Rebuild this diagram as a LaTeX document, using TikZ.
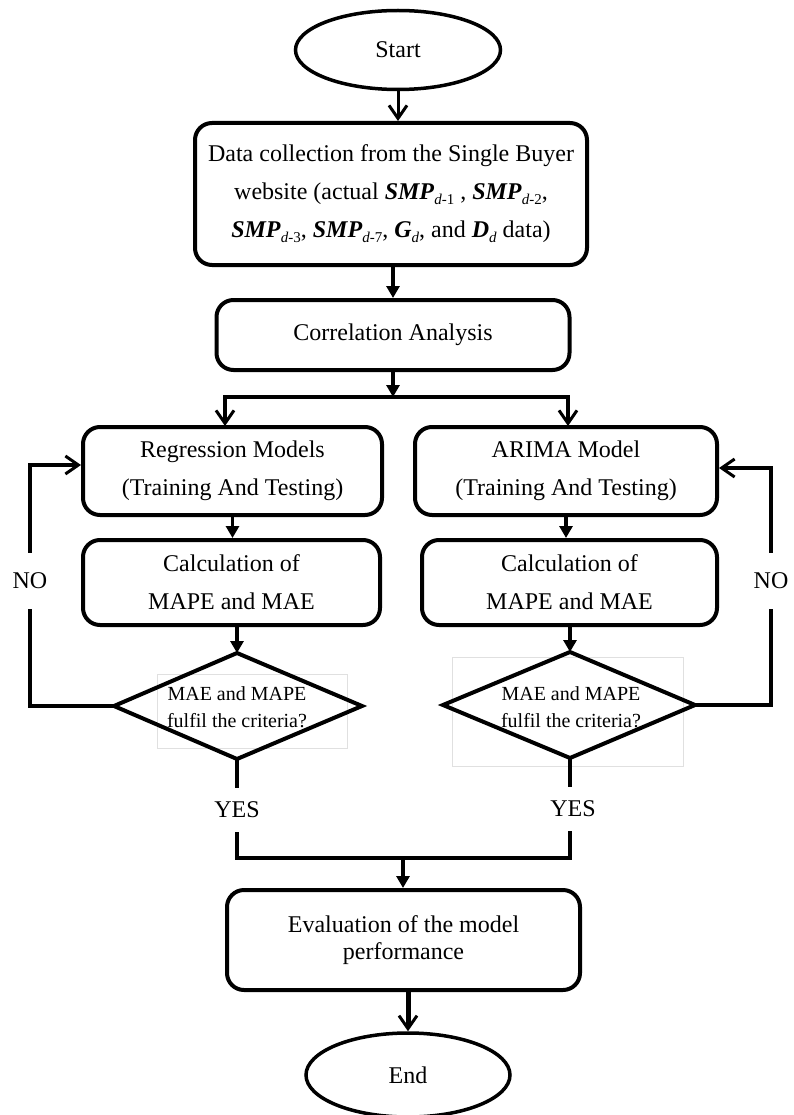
\documentclass[tikz,border=0pt]{standalone}
\usepackage{fontspec}
\setmainfont{Liberation Serif}
\usetikzlibrary{arrows.meta,shapes.geometric,calc}
\newcommand{\subd}[1]{\raisebox{-0.45ex}{\fontsize{15pt}{15pt}\selectfont\textit{d}#1}}
\newcommand{\smpd}[1]{\textbf{\textit{SMP}}\subd{-#1}}
\begin{document}
\begin{tikzpicture}[x=1pt,y=-1pt,
  every node/.style={inner sep=0pt, align=center},
  txt/.style={font=\fontsize{24pt}{38pt}\selectfont},
  box/.style={draw, line width=4pt, rounded corners=17pt, txt},
  term/.style={draw, ellipse, line width=3.5pt, txt},
  dectxt/.style={font=\fontsize{20pt}{27pt}\selectfont},
  decline/.style={line width=4pt, line join=miter},
  conn/.style={line width=3.5pt},
  openarr/.style={conn, -{Straight Barb[length=13pt,width=18pt,line width=3pt]}},
  filarr/.style={conn, -{Triangle[length=12pt,width=13pt]}},
  grayrect/.style={draw=black!12, line width=1pt},
  gaplabel/.style={fill=white, txt}
]
\useasboundingbox (0,0) rectangle (794,1115);
% gray frames behind the decisions
\draw[grayrect] (157,674) rectangle (347,748);
\draw[grayrect] (452,657) rectangle (683,766);
% nodes
\node[term, minimum width=205pt, minimum height=79pt] (start) at (398,50) {Start};
\node[box, minimum width=392pt, minimum height=142pt] (data) at (391,194)
  {Data collection from the Single Buyer\\
   website (actual \smpd{1} , \smpd{2},\\
   \smpd{3}, \smpd{7}, \textbf{\textit{G}}\subd{}, and \textbf{\textit{D}}\subd{} data)};
\node[box, minimum width=353pt, minimum height=70pt] (corr) at (393,335) {Correlation Analysis};
\node[box, minimum width=299pt, minimum height=88pt] (reg) at (232.5,471) {Regression Models\\(Training And Testing)};
\node[box, minimum width=302pt, minimum height=88pt] (ari) at (566,471) {ARIMA Model\\(Training And Testing)};
\node[box, minimum width=297pt, minimum height=85pt] (calcl) at (231.5,582.5) {Calculation of\\MAPE and MAE};
\node[box, minimum width=295pt, minimum height=85pt] (calcr) at (569.5,582.5) {Calculation of\\MAPE and MAE};
% decision diamonds
\coordinate (dlN) at (237,653);
\coordinate (dlE) at (362,706);
\coordinate (dlS) at (237,759);
\coordinate (dlW) at (114,706);
\draw[decline] (dlN) -- (dlE) -- (dlS) -- (dlW) -- cycle;
\node[dectxt] (dl) at (237,707) {MAE and MAPE\\fulfil the criteria?};
\coordinate (drN) at (570,652);
\coordinate (drE) at (695,705);
\coordinate (drS) at (570,758);
\coordinate (drW) at (443,705);
\draw[decline] (drN) -- (drE) -- (drS) -- (drW) -- cycle;
\node[dectxt] (dr) at (571,707) {MAE and MAPE\\fulfil the criteria?};
\node[box, minimum width=353pt, minimum height=100pt, font=\fontsize{24pt}{27pt}\selectfont] (eval) at (403.5,940) {Evaluation of the model\\performance};
\node[term, minimum width=204pt, minimum height=84pt] (end) at (408,1075) {End};
% coordinates
\coordinate (j) at (393,397);
\coordinate (jl) at (225,426);
\coordinate (jr) at (568,426);
\coordinate (nl) at (30,465);
\coordinate (nr) at (771,468);
\coordinate (yr) at (570,858);
\coordinate (ye) at (403,858);
% connectors
\draw[openarr, line width=3pt] (start.south) -- (start.south |- data.north);
\draw[filarr] (corr.north |- data.south) -- (corr.north);
\draw[filarr] (corr.south) -- (j);
\draw[openarr] (j) -| (jl);
\draw[openarr] (j) -| (jr);
\draw[filarr] (reg.south) -- (reg.south |- calcl.north);
\draw[filarr] (ari.south) -- (ari.south |- calcr.north);
\draw[filarr] (calcl.south -| dlN) -- (dlN);
\draw[filarr] (calcr.south -| drN) -- (drN);
\draw[openarr] (dlW) -| (nl) -- (nl -| reg.west);
\draw[openarr] (drE) -| (nr) -- (nr -| ari.east);
\draw[conn] (dlS) |- (yr) -- (drS);
\draw[filarr] (ye) -- (ye |- eval.north);
\draw[openarr, line width=5pt] (end.north |- eval.south) -- (end.north);
% labels on the lines
\node[gaplabel, minimum height=56pt] (nol) at (30,581) {NO};
\node[gaplabel, minimum height=56pt] (nor) at (771,581) {NO};
\node[gaplabel, minimum height=44pt] (yesl) at (237,810) {YES};
\node[gaplabel, minimum height=44pt] (yesr) at (573,809) {YES};
\end{tikzpicture}
\end{document}
